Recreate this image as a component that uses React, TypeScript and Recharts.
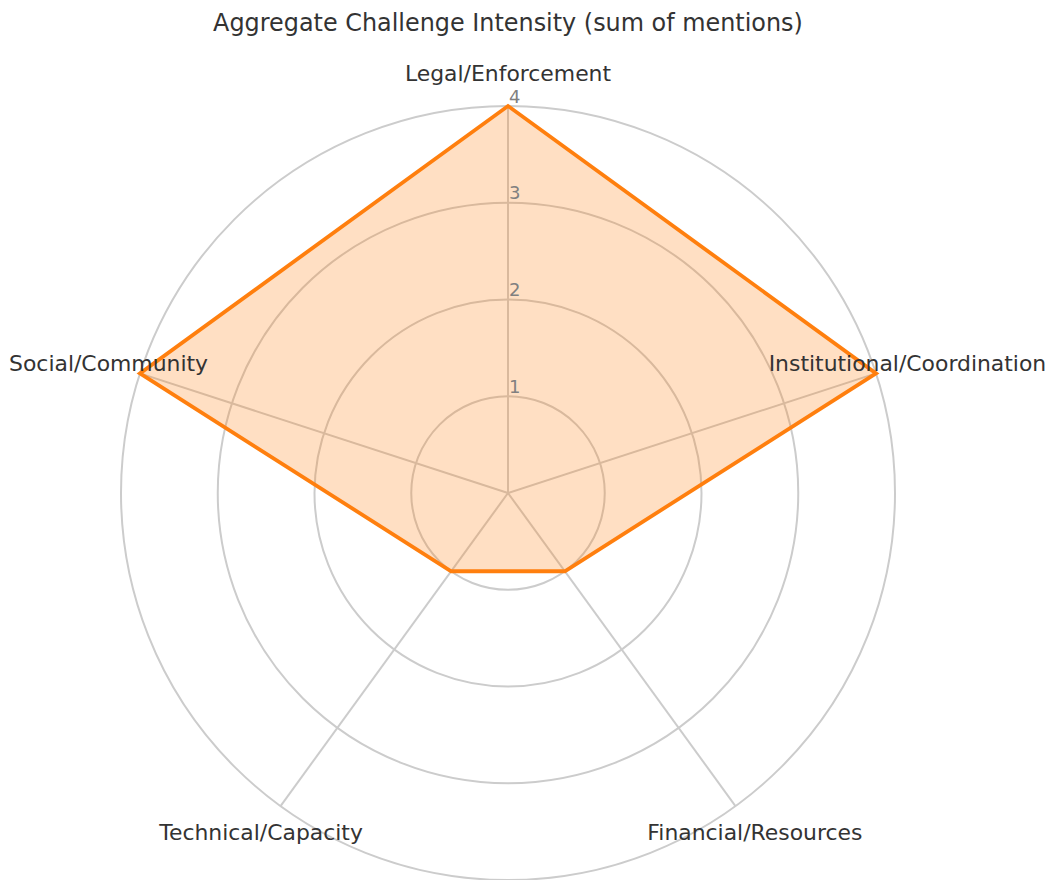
import { PolarAngleAxis, PolarGrid, PolarRadiusAxis, Radar, RadarChart } from "recharts";

const categories = [
  "Legal/Enforcement",
  "Institutional/Coordination",
  "Financial/Resources",
  "Technical/Capacity",
  "Social/Community",
];
const mentions = [4, 4, 1, 1, 4];
const radiusTicks = [0, 1, 2, 3, 4];

const data = categories.map((name, i) => ({ name, value: mentions[i] }));

const CX = 508;
const CY = 493;
const OUTER = 387;
const LABEL_RADIUS = 420;
const FONT = "'DejaVu Sans', sans-serif";

function AngleTick(props: any) {
  const { x, y, payload } = props;
  const dx = x - CX;
  const dy = y - CY;
  const len = Math.sqrt(dx * dx + dy * dy) || 1;
  const tx = CX + (dx / len) * LABEL_RADIUS;
  const ty = CY + (dy / len) * LABEL_RADIUS;
  return (
    <text
      x={tx}
      y={ty}
      textAnchor="middle"
      dominantBaseline="central"
      fontFamily={FONT}
      fontSize={21.9}
      fill="#333333"
    >
      {payload.value}
    </text>
  );
}

function RadiusTick(props: any) {
  const { x, y, payload } = props;
  if (payload.value === 0) return null;
  return (
    <text
      x={x + 1}
      y={y - 10}
      textAnchor="start"
      dominantBaseline="central"
      fontFamily={FONT}
      fontSize={18}
      fill="#808080"
    >
      {payload.value}
    </text>
  );
}

export default function App() {
  return (
    <div style={{ position: "absolute", left: 0, top: 0, width: 1052, height: 880, background: "#fff" }}>
      <div
        style={{
          position: "absolute",
          left: 0,
          top: 7,
          width: 1016,
          textAlign: "center",
          fontFamily: FONT,
          fontSize: 23.9,
          lineHeight: "32px",
          color: "#333333",
        }}
      >
        Aggregate Challenge Intensity (sum of mentions)
      </div>
      <RadarChart
        width={1052}
        height={880}
        data={data}
        cx={CX}
        cy={CY}
        outerRadius={OUTER}
        startAngle={90}
        endAngle={-270}
        margin={{ top: 0, right: 0, bottom: 0, left: 0 }}
      >
        <PolarGrid gridType="circle" stroke="#cccccc" strokeWidth={2} />
        <PolarAngleAxis dataKey="name" tick={<AngleTick />} tickLine={false} axisLine={false} />
        <PolarRadiusAxis
          angle={90}
          domain={[0, 4]}
          tickCount={radiusTicks.length}
          tick={<RadiusTick />}
          axisLine={false}
          tickLine={false}
        />
        <Radar
          dataKey="value"
          stroke="#ff7f0e"
          strokeWidth={3.8}
          fill="#ff7f0e"
          fillOpacity={0.25}
          isAnimationActive={false}
        />
      </RadarChart>
    </div>
  );
}
